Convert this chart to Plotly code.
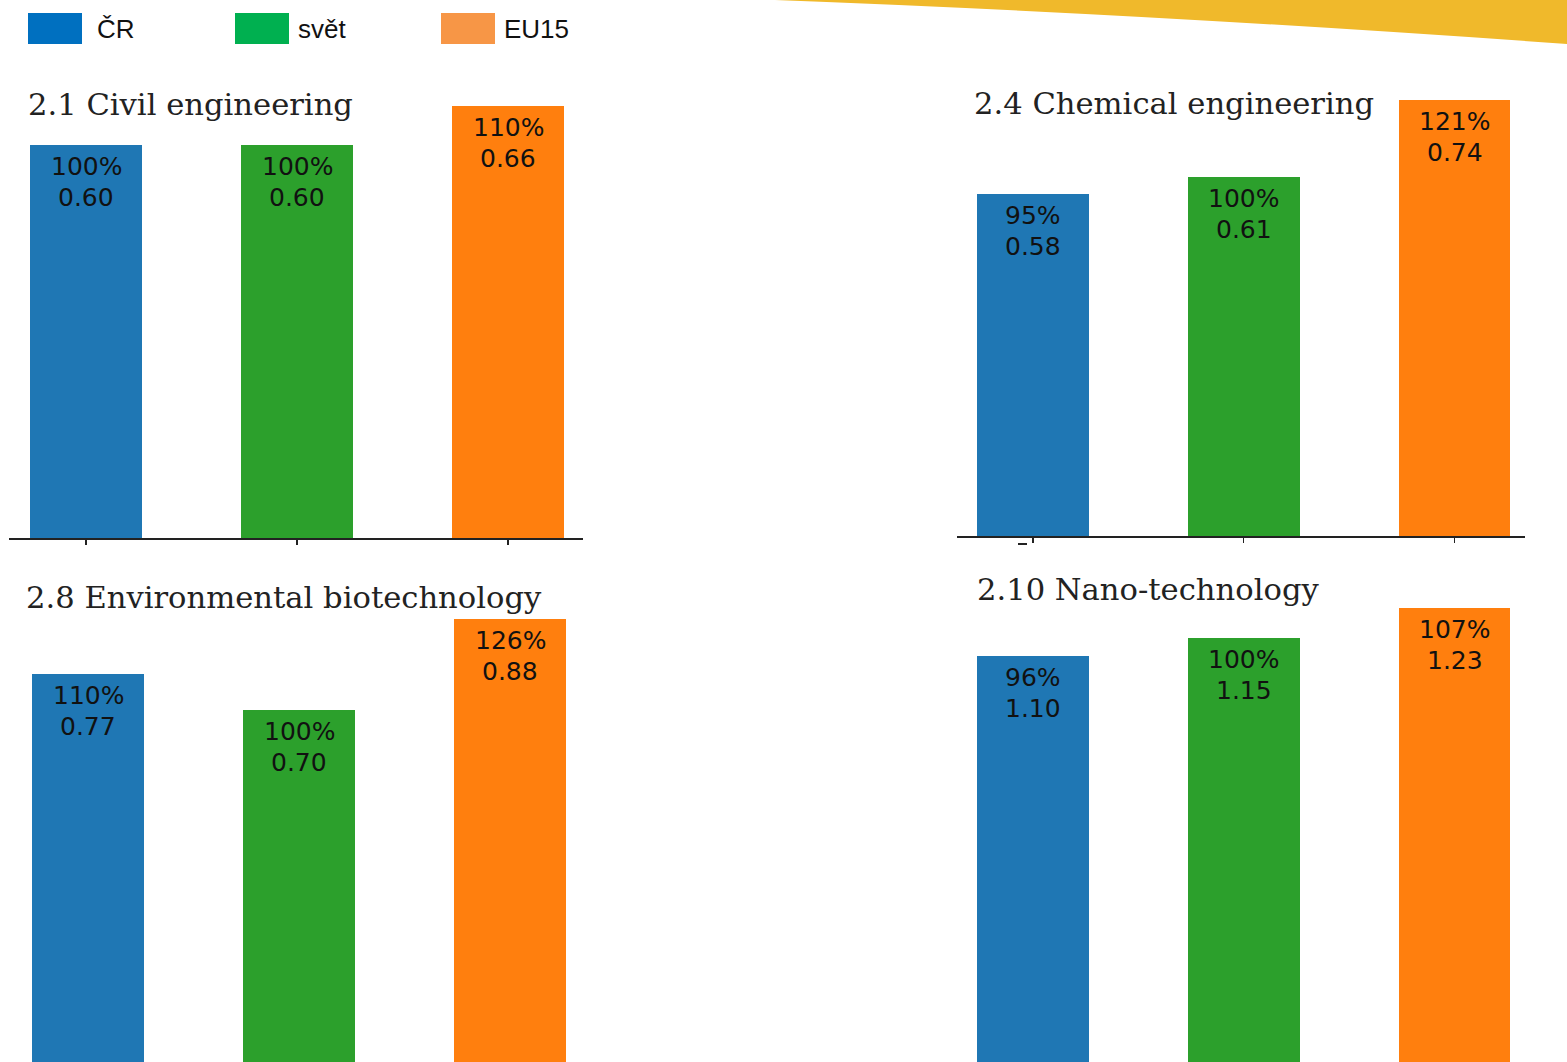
import plotly.graph_objects as go

W, H = 1567, 1062

categories = ["ČR", "svět", "EU15"]
bar_colors = ["#1f77b4", "#2ca02c", "#ff7f0e"]
legend_colors = ["#0070C0", "#00B050", "#F79646"]

titles = ["2.1 Civil engineering", "2.4 Chemical engineering",
          "2.8 Environmental biotechnology", "2.10 Nano-technology"]
civil_vals = [0.60, 0.60, 0.66]
civil_pct = [100, 100, 110]
chem_vals = [0.58, 0.61, 0.74]
chem_pct = [95, 100, 121]
env_vals = [0.77, 0.70, 0.88]
env_pct = [110, 100, 126]
nano_vals = [1.10, 1.15, 1.23]
nano_pct = [96, 100, 107]

panels = [
    (civil_vals, civil_pct),
    (chem_vals, chem_pct),
    (env_vals, env_pct),
    (nano_vals, nano_pct),
]


def fx(px):
    return px / W


def fy(py):
    return 1 - py / H


# layout geometry (pixels): x-domain, y-domain (top, bottom), x-range, y-range
geo = [
    dict(xd=(9, 583), yd=(80, 538), xr=(-0.365, 2.355), yr=(0, 458 / 655), line=True),
    dict(xd=(957, 1525), yd=(80, 536), xr=(-0.3606, 2.3345), yr=(0, 456 / 589), line=True),
    dict(xd=(11, 585), yd=(600, 1062), xr=(-0.365, 2.355), yr=(2 / 506, 2 / 506 + 462 / 506), line=False),
    dict(xd=(957, 1525), yd=(590, 1062), xr=(-0.3606, 2.3345), yr=(1 / 370, 1 / 370 + 472 / 370), line=False),
]
title_pos = [(26, 104), (972, 103), (24, 597), (975, 589)]

fig = go.Figure()
annotations = []
layout_axes = {}
lab_font = dict(family="DejaVu Sans", size=25, color="#111")
for i, ((vals, pct), g) in enumerate(zip(panels, geo)):
    n = "" if i == 0 else str(i + 1)
    xa, ya = "x" + n, "y" + n
    fig.add_trace(go.Bar(
        x=[0, 1, 2], y=vals, width=0.53,
        marker=dict(color=bar_colors, line=dict(width=0)),
        xaxis=xa, yaxis=ya, showlegend=False, hoverinfo="skip",
    ))
    layout_axes["xaxis" + n] = dict(
        domain=[fx(g["xd"][0]), fx(g["xd"][1])], range=list(g["xr"]),
        anchor=ya, showgrid=False, zeroline=False, showticklabels=False,
        showline=g["line"], linecolor="#222", linewidth=1.6,
        ticks="outside" if g["line"] else "", tickvals=[0, 1, 2],
        ticklen=5, tickwidth=1.4, tickcolor="#222", fixedrange=True,
    )
    layout_axes["yaxis" + n] = dict(
        domain=[fy(g["yd"][1]), fy(g["yd"][0])], range=list(g["yr"]),
        anchor=xa, showgrid=False, zeroline=False, showticklabels=False,
        showline=False, ticks="", fixedrange=True,
    )
    for j, (v, p) in enumerate(zip(vals, pct)):
        annotations.append(dict(
            x=j, y=v, xref=xa, yref=ya, text=f"{p}%",
            showarrow=False, yanchor="top", xanchor="center", yshift=-5,
            font=lab_font,
        ))
        annotations.append(dict(
            x=j, y=v, xref=xa, yref=ya, text=f"{v:.2f}",
            showarrow=False, yanchor="top", xanchor="center", yshift=-36,
            font=lab_font,
        ))
    tx, ty = title_pos[i]
    annotations.append(dict(
        x=fx(tx), y=fy(ty), xref="paper", yref="paper", text=titles[i],
        showarrow=False, xanchor="left", yanchor="middle",
        font=dict(family="DejaVu Serif", size=30.6, color="#222"),
    ))

# legend (slide style)
shapes = []
leg_x = [28, 235, 441]
leg_text_x = [95, 296, 502]
for k, cat in enumerate(categories):
    x0 = leg_x[k]
    shapes.append(dict(type="rect", xref="paper", yref="paper",
                       x0=fx(x0), x1=fx(x0 + 54), y0=fy(44), y1=fy(13),
                       fillcolor=legend_colors[k], line=dict(width=0), layer="above"))
    annotations.append(dict(
        x=fx(leg_text_x[k]), y=fy(29), xref="paper", yref="paper", text=cat,
        showarrow=False, xanchor="left", yanchor="middle",
        font=dict(family="Liberation Sans, Arial", size=26, color="#111"),
    ))

# decorative swoosh at top right
path = (f"M {fx(775)},{fy(0)} Q {fx(1150)},{fy(14)} {fx(1567)},{fy(44)} "
        f"L {fx(1567)},{fy(0)} Z")
shapes.append(dict(type="path", xref="paper", yref="paper", path=path,
                   fillcolor="#F0B92B", line=dict(width=0), layer="above"))

# small stray tick mark under the chemical engineering axis
shapes.append(dict(type="line", xref="paper", yref="paper",
                   x0=fx(1018), x1=fx(1027), y0=fy(544), y1=fy(544),
                   line=dict(color="#222", width=2)))

fig.update_layout(
    width=W, height=H,
    margin=dict(l=0, r=0, t=0, b=0),
    paper_bgcolor="#FFFFFF", plot_bgcolor="#FFFFFF",
    annotations=annotations, shapes=shapes, bargap=0,
    **layout_axes,
)

fig.write_html(
    "out.html",
    config={"displayModeBar": False, "staticPlot": True},
    post_script="document.body.style.margin='0px';document.body.style.overflow='hidden';",
)
